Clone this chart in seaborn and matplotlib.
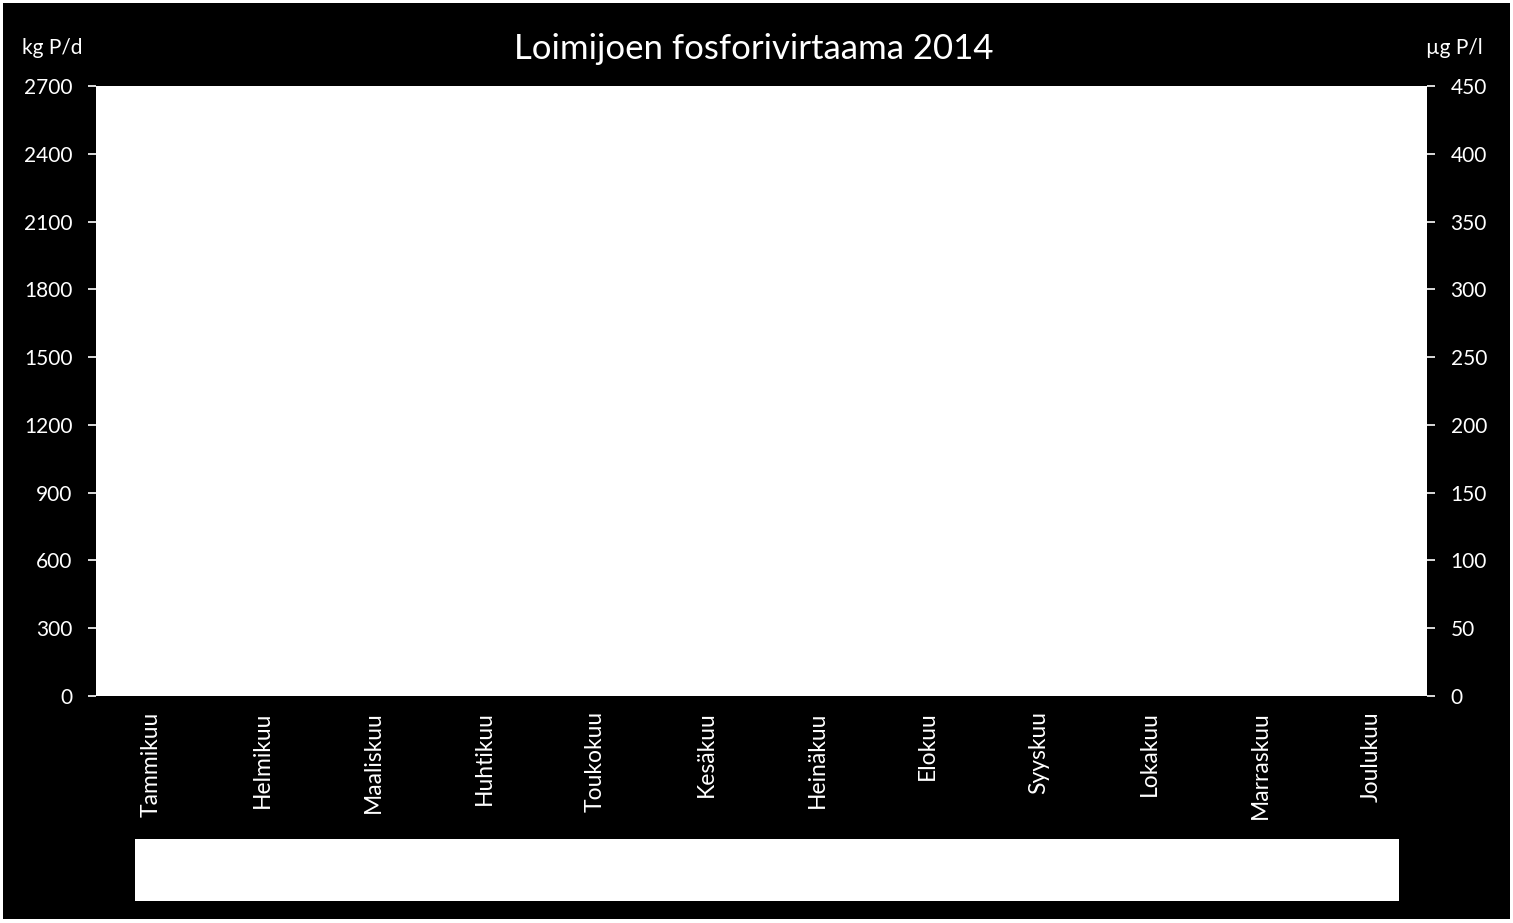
import numpy as np
import pandas as pd
import seaborn as sns
import matplotlib.pyplot as plt
from matplotlib.patches import Rectangle

months = ["Tammikuu", "Helmikuu", "Maaliskuu", "Huhtikuu", "Toukokuu", "Kesäkuu",
          "Heinäkuu", "Elokuu", "Syyskuu", "Lokakuu", "Marraskuu", "Joulukuu"]
# no values shown in the chart for 2014
kuorma = [np.nan] * len(months)        # kg P/d
pitoisuus = [np.nan] * len(months)     # µg P/l
left_ticks = list(range(0, 2701, 300))
right_ticks = list(range(0, 451, 50))

sns.set_style("white")
plt.rcParams["font.family"] = ["Lato", "DejaVu Sans"]

W, H = 1513, 923
fig = plt.figure(figsize=(W / 100, H / 100), dpi=100)
fig.patch.set_facecolor("white")
fig.add_artist(Rectangle((3 / W, 4 / H), (W - 6) / W, (H - 7) / H,
                         transform=fig.transFigure, facecolor="black", edgecolor="none", zorder=0))

ax = fig.add_axes([96 / W, (H - 696) / H, (1427 - 96) / W, (696 - 86) / H])
ax.set_facecolor("white")
df = pd.DataFrame({"kk": months, "kuorma": kuorma, "pitoisuus": pitoisuus})
sns.lineplot(data=df, x="kk", y="kuorma", ax=ax, sort=False)
ax.set_xlim(-0.5, len(months) - 0.5)
ax.set_ylim(left_ticks[0], left_ticks[-1])
ax.set_yticks(left_ticks)
ax.set_xticks(np.arange(-0.5, len(months)), labels=[])
ax.set_xticks(np.arange(len(months)), labels=months, minor=True, rotation=90)
ax.tick_params(axis="x", which="major", length=5, width=1.2, color="white", direction="out")
ax.tick_params(axis="x", which="minor", length=0, pad=11, labelsize=16.5, labelcolor="white")
ax.tick_params(axis="y", length=6, width=1.2, color="white", pad=11, labelsize=15,
               labelcolor="white", left=True)
for lbl in ax.get_xticklabels(minor=True):
    lbl.set_va("top")
ax.set_xlabel("")
ax.set_ylabel("")
for s in ax.spines.values():
    s.set_visible(False)

ax2 = ax.twinx()
sns.lineplot(data=df, x="kk", y="pitoisuus", ax=ax2, sort=False)
ax2.set_ylim(right_ticks[0], right_ticks[-1])
ax2.set_yticks(right_ticks)
ax2.tick_params(axis="y", length=6, width=1.2, color="white", pad=11, labelsize=15,
                labelcolor="white", right=True)
ax2.set_ylabel("")
for s in ax2.spines.values():
    s.set_visible(False)

fig.text(754 / W, 1 - 49 / H, "Loimijoen fosforivirtaama 2014", color="white",
         fontsize=25, ha="center", va="center")
fig.text(22 / W, 1 - 48 / H, "kg P/d", color="white", fontsize=15, ha="left", va="center")
fig.text(1483 / W, 1 - 48 / H, "µg P/l", color="white", fontsize=15, ha="right", va="center")

# empty legend box
fig.add_artist(Rectangle((135 / W, (H - 901) / H), (1399 - 135) / W, 62 / H,
                         transform=fig.transFigure, facecolor="white", edgecolor="none"))

fig.savefig("out.png", dpi=100, facecolor=fig.get_facecolor())
